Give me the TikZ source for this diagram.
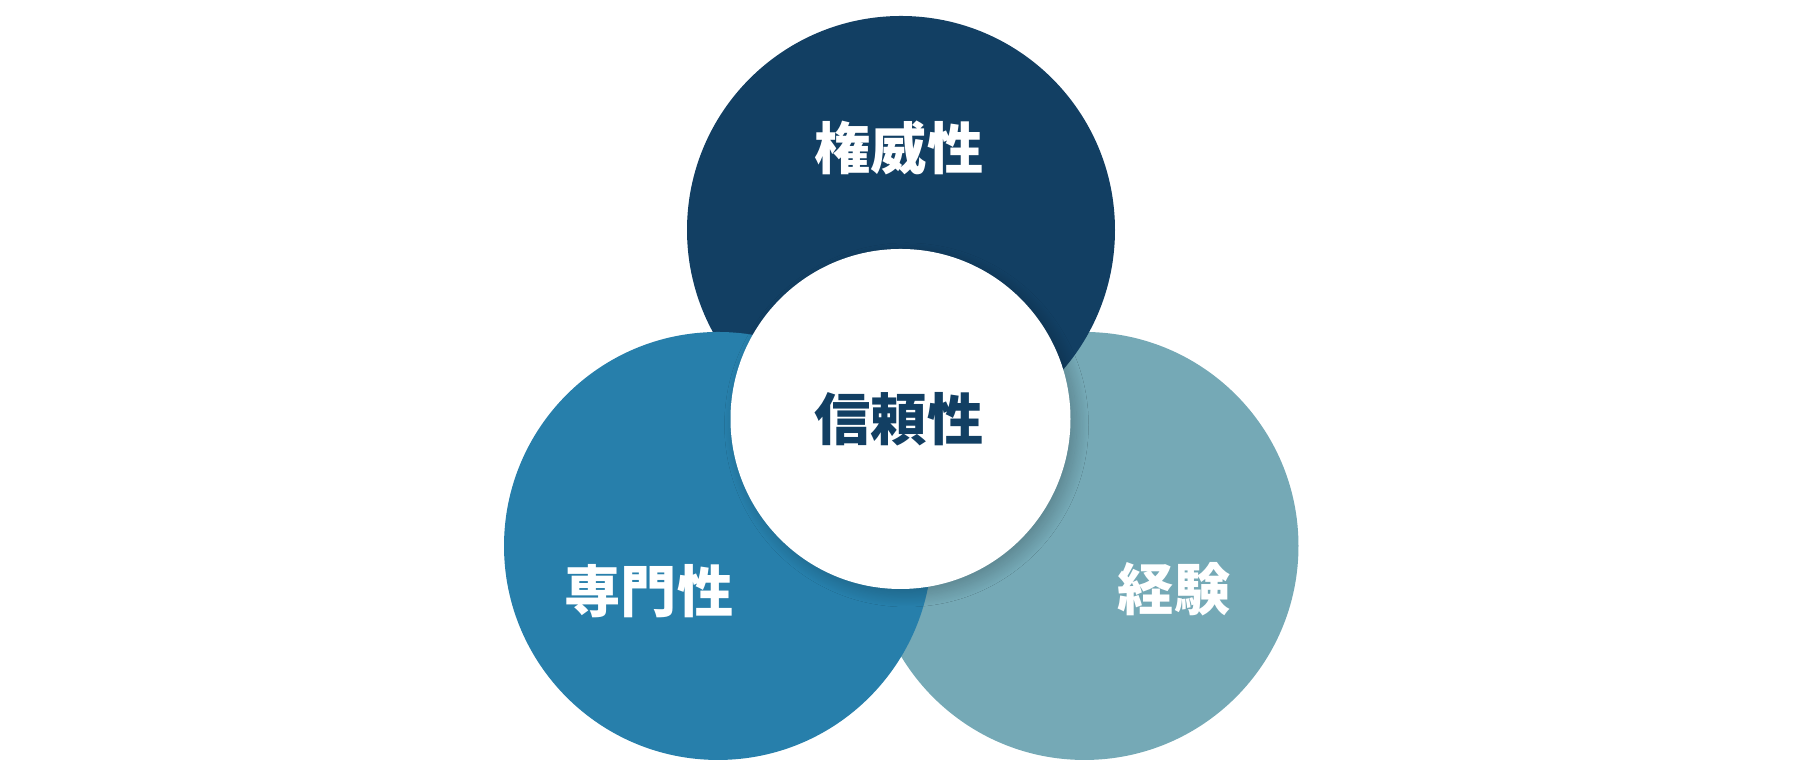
\documentclass[tikz,border=0pt]{standalone}
\usepackage{fontspec}
\newfontfamily\cjk{Noto Sans CJK JP}
\usetikzlibrary{shadows.blur}
\definecolor{navy}{HTML}{123F63}
\definecolor{midblue}{HTML}{277FAB}
\definecolor{teal}{HTML}{75A9B6}
\begin{document}
\begin{tikzpicture}[every node/.style={font=\cjk\bfseries\fontsize{16}{16}\selectfont},
	label/.style={text=white}]
		\useasboundingbox (0,0) rectangle (18,7.72);
		% Circulo experiencia
		\fill[color=teal] (10.845,2.26) circle[radius=2.14];
		% Circulo autoridad
		\fill[color=navy] (9.01,5.42) circle[radius=2.14];
		% Circulo especialidad
		\fill[color=midblue] (7.18,2.26) circle[radius=2.14];
		% Circulo central
		\fill[white,blur shadow={shadow xshift=0.06cm,shadow yshift=-0.06cm,shadow blur radius=0.12cm,shadow blur steps=30,shadow opacity=22}] (9.005,3.53) circle[radius=1.70];
		% Textos
		\node[label] (authority) at (8.99,6.24) {権威性};
		\node[text=navy] (trust) at (8.99,3.53) {信頼性};
		\node[label] (expertise) at (6.49,1.81) {専門性};
		\node[label] (experience) at (11.74,1.83) {経験};
\end{tikzpicture}
\end{document}
